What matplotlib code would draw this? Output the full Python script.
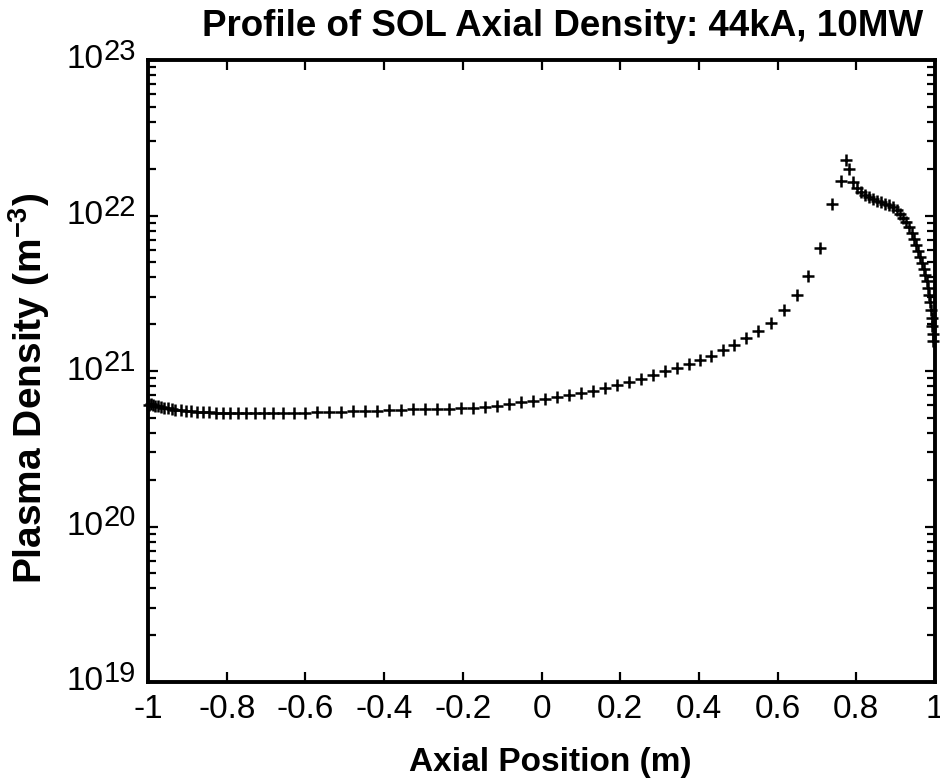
import matplotlib
matplotlib.use("Agg")
import matplotlib.pyplot as plt
from matplotlib.ticker import LogLocator, NullFormatter, NullLocator

# ------------------------------------------------------------
# Data (axial position in m, density in m^-3)
# ------------------------------------------------------------
position = [
    -0.997, -0.992, -0.987, -0.982, -0.975, -0.967, -0.959, -0.949, -0.939, -0.931,
    -0.916, -0.903, -0.891, -0.875, -0.860, -0.845, -0.827, -0.809, -0.792, -0.771,
    -0.751, -0.728, -0.705, -0.682, -0.657, -0.629, -0.601, -0.571, -0.540, -0.510,
    -0.479, -0.449, -0.418, -0.388, -0.357, -0.327, -0.296, -0.266, -0.235, -0.205,
    -0.174, -0.144, -0.113, -0.083, -0.052, -0.022, 0.009, 0.039, 0.070, 0.100,
    0.131, 0.161, 0.192, 0.222, 0.253, 0.283, 0.314, 0.344, 0.375, 0.403,
    0.431, 0.461, 0.489, 0.520, 0.550, 0.583, 0.616, 0.649, 0.677, 0.708,
    0.738, 0.761, 0.774, 0.781, 0.792, 0.802, 0.812, 0.822, 0.832, 0.842,
    0.853, 0.863, 0.873, 0.883, 0.893, 0.903, 0.911, 0.919, 0.926, 0.934,
    0.942, 0.947, 0.952, 0.957, 0.962, 0.967, 0.972, 0.975, 0.980, 0.982,
    0.985, 0.987, 0.990, 0.992, 0.993, 0.995, 0.996,
]
density = [
    6.04e20, 6.13e20, 6.04e20, 5.95e20, 5.95e20, 5.86e20, 5.78e20, 5.78e20, 5.70e20, 5.61e20,
    5.61e20, 5.53e20, 5.53e20, 5.45e20, 5.45e20, 5.45e20, 5.37e20, 5.37e20, 5.37e20, 5.37e20,
    5.37e20, 5.37e20, 5.37e20, 5.37e20, 5.37e20, 5.37e20, 5.37e20, 5.45e20, 5.45e20, 5.45e20,
    5.53e20, 5.53e20, 5.53e20, 5.61e20, 5.61e20, 5.70e20, 5.70e20, 5.70e20, 5.70e20, 5.78e20,
    5.78e20, 5.86e20, 5.95e20, 6.13e20, 6.32e20, 6.42e20, 6.61e20, 6.81e20, 7.01e20, 7.22e20,
    7.44e20, 7.78e20, 8.13e20, 8.50e20, 8.89e20, 9.43e20, 1.00e21, 1.05e21, 1.11e21, 1.18e21,
    1.25e21, 1.36e21, 1.47e21, 1.63e21, 1.81e21, 2.04e21, 2.47e21, 3.08e21, 4.09e21, 6.18e21,
    1.19e22, 1.67e22, 2.28e22, 1.99e22, 1.64e22, 1.50e22, 1.42e22, 1.35e22, 1.31e22, 1.28e22,
    1.24e22, 1.22e22, 1.19e22, 1.17e22, 1.13e22, 1.08e22, 1.02e22, 9.64e21, 9.09e21, 8.43e21,
    7.71e21, 7.06e21, 6.46e21, 5.91e21, 5.41e21, 4.95e21, 4.53e21, 4.14e21, 3.79e21, 3.42e21,
    3.08e21, 2.78e21, 2.47e21, 2.19e21, 1.95e21, 1.73e21, 1.56e21,
]

xtick_values = [-1, -0.8, -0.6, -0.4, -0.2, 0, 0.2, 0.4, 0.6, 0.8, 1]
xtick_labels = ["-1", "-0.8", "-0.6", "-0.4", "-0.2", "0", "0.2", "0.4", "0.6", "0.8", "1"]
ytick_values = [1e19, 1e20, 1e21, 1e22, 1e23]
ytick_exponents = ["19", "20", "21", "22", "23"]

# ------------------------------------------------------------
# Style
# ------------------------------------------------------------
plt.rcParams["font.family"] = ["Liberation Sans", "DejaVu Sans"]
plt.rcParams["axes.unicode_minus"] = False
plt.rcParams["mathtext.fontset"] = "custom"
plt.rcParams["mathtext.rm"] = "Liberation Sans:bold"
plt.rcParams["mathtext.bf"] = "Liberation Sans:bold"
plt.rcParams["mathtext.default"] = "bf"

fig = plt.figure(figsize=(9.4, 7.82), dpi=100)
ax = fig.add_axes([148 / 940, 1 - 682 / 782, 787 / 940, 622 / 782])

ax.plot(position, density, linestyle="none", marker="+", color="black",
        markersize=9, markeredgewidth=1.8, clip_on=False)

ax.set_yscale("log")
ax.set_xlim(-1, 1)
ax.set_ylim(1e19, 1e23)

ax.set_xticks(xtick_values)
ax.set_xticklabels(xtick_labels, fontsize=24)
ax.xaxis.set_minor_locator(NullLocator())

ax.set_yticks(ytick_values)
ax.set_yticklabels([""] * len(ytick_values))
ax.yaxis.set_minor_locator(LogLocator(base=10, subs=range(2, 10)))
ax.yaxis.set_minor_formatter(NullFormatter())

ax.tick_params(which="both", direction="in", top=True, right=True, width=1.6)
ax.tick_params(axis="x", which="major", length=7, pad=9)
ax.tick_params(axis="y", which="major", length=7)
ax.tick_params(axis="y", which="minor", length=6)
for sp in ax.spines.values():
    sp.set_linewidth(2.8)

# y tick labels drawn as "10" with a large exponent, like the reference
ytrans = ax.get_yaxis_transform()
for val, ex in zip(ytick_values, ytick_exponents):
    ax.text(-0.057, val, "10", transform=ytrans, ha="right", va="center",
            fontsize=24, clip_on=False)
    ax.text(-0.056, val, ex, transform=ytrans, ha="left", va="baseline",
            fontsize=21, clip_on=False)

# ------------------------------------------------------------
# Labels
# ------------------------------------------------------------
fig.text(563 / 940, 1 - 27 / 782, "Profile of SOL Axial Density: 44kA, 10MW",
         ha="center", va="center", fontsize=26.5, fontweight="bold")
fig.text(550 / 940, 1 - 763 / 782, "Axial Position (m)",
         ha="center", va="center", fontsize=24, fontweight="bold")
fig.text(29 / 940, 1 - 388 / 782, r"Plasma Density (m$^{-3}$)",
         ha="center", va="center", rotation=90, fontsize=28, fontweight="bold")

fig.savefig("out.png", dpi=100)
